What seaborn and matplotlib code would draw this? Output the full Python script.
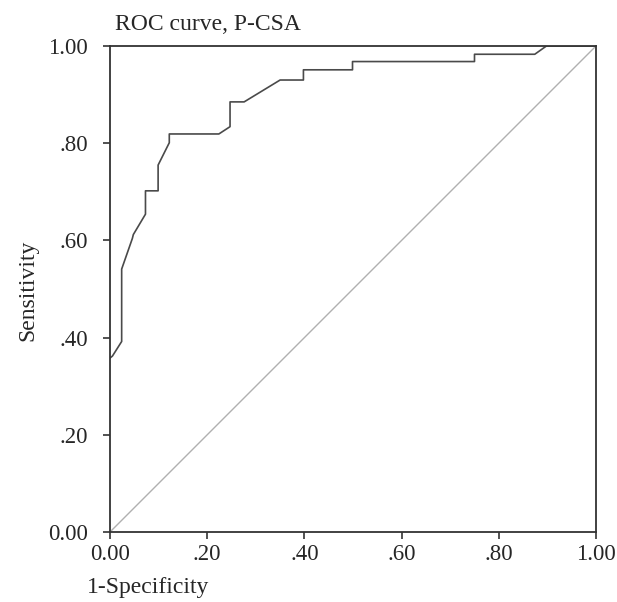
import pandas as pd
import seaborn as sns
import matplotlib.pyplot as plt

# ROC curve points
fpr = [0.000, 0.005, 0.024, 0.024, 0.046, 0.048, 0.073, 0.073, 0.099, 0.099, 0.122, 0.122,
       0.224, 0.247, 0.247, 0.276, 0.350, 0.398, 0.398, 0.499, 0.499, 0.750, 0.750,
       0.874, 0.898, 1.000]
tpr = [0.358, 0.362, 0.392, 0.541, 0.604, 0.612, 0.654, 0.702, 0.702, 0.755, 0.801, 0.819,
       0.819, 0.834, 0.885, 0.885, 0.930, 0.930, 0.951, 0.951, 0.968, 0.968, 0.983,
       0.983, 1.000, 1.000]
ref_line = [0.0, 1.0]
tick_vals = [0.0, 0.2, 0.4, 0.6, 0.8, 1.0]
tick_labels = ['0.00', '.20', '.40', '.60', '.80', '1.00']

roc = pd.DataFrame({'fpr': fpr, 'tpr': tpr})
diag = pd.DataFrame({'x': ref_line, 'y': ref_line})

sns.set_style('white')
plt.rcParams['font.family'] = ['Liberation Serif', 'DejaVu Serif']

fig = plt.figure(figsize=(6.17, 6.02), dpi=100)
ax = fig.add_axes([110 / 617, 1 - 532 / 602, 486 / 617, 486 / 602])

sns.lineplot(data=diag, x='x', y='y', color='#b0b0b0', linewidth=1.0, ax=ax)
sns.lineplot(data=roc, x='fpr', y='tpr', sort=False, estimator=None,
             color='#4a4a4a', linewidth=1.2, ax=ax)

ax.set_xlim(0, 1)
ax.set_ylim(0, 1)
ax.set_xticks(tick_vals)
ax.set_xticklabels(tick_labels)
ax.set_yticks(tick_vals)
ax.set_yticklabels(tick_labels)
ax.tick_params(direction='out', length=5, width=1.2, color='#333333',
               labelsize=16.5, left=True, bottom=True)
ax.tick_params(axis='y', pad=11)
ax.tick_params(axis='x', pad=4)
for s in ax.spines.values():
    s.set_color('#333333')
    s.set_linewidth(1.3)

ax.set_xlabel('')
ax.set_ylabel('')
fig.text(115 / 617, 1 - 30 / 602, 'ROC curve, P-CSA', fontsize=17, ha='left', va='baseline')
fig.text(87 / 617, 1 - 588 / 602, '1-Specificity', fontsize=17, ha='left', va='center')
fig.text(28 / 617, 1 - 290 / 602, 'Sensitivity', fontsize=17, rotation=90,
         ha='center', va='center')

plt.savefig('out.png', dpi=100)
